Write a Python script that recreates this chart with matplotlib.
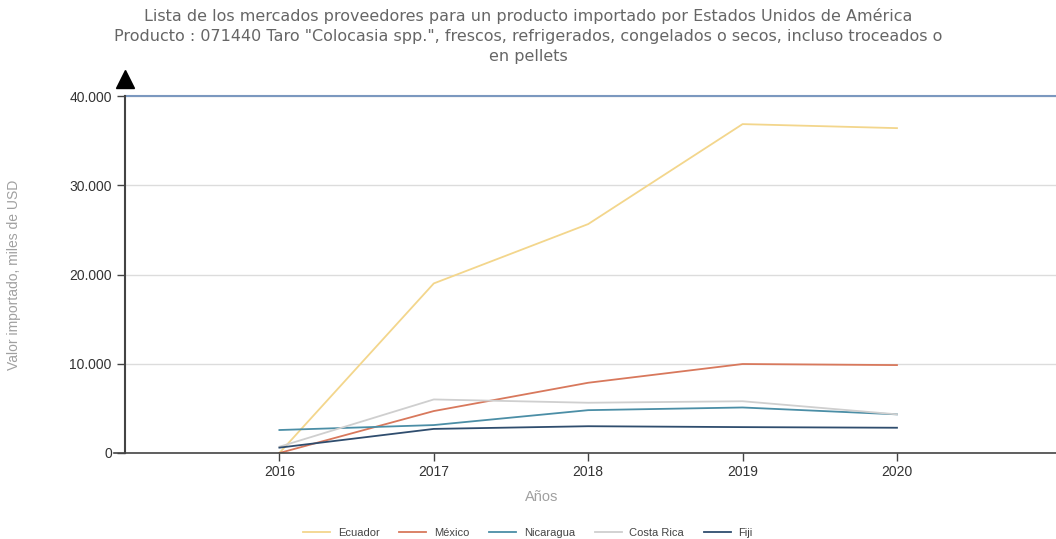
import numpy as np
import matplotlib
matplotlib.use("Agg")
import matplotlib.pyplot as plt
from matplotlib.ticker import FuncFormatter

years = [2016, 2017, 2018, 2019, 2020]
ecuador = [0, 19000, 25650, 36850, 36400]
mexico = [0, 4700, 7870, 9970, 9850]
nicaragua = [2575, 3130, 4800, 5100, 4330]
costa_rica = [700, 6000, 5630, 5800, 4330]
fiji = [600, 2700, 3000, 2900, 2830]

series = [
    ("Ecuador", ecuador, "#f3d68c"),
    ("México", mexico, "#d8785c"),
    ("Nicaragua", nicaragua, "#4b8ea6"),
    ("Costa Rica", costa_rica, "#cfcfcf"),
    ("Fiji", fiji, "#2f4d6e"),
]

plt.rcParams["font.family"] = ["Liberation Sans", "DejaVu Sans"]

fig = plt.figure(figsize=(10.56, 5.39), dpi=100)
ax = fig.add_axes([125 / 1056, 86 / 539, 931 / 1056, 357 / 539])

for name, vals, col in series:
    ax.plot(years, vals, color=col, lw=1.3, label=name)

ax.set_xlim(2015, 2021.03)
ax.set_ylim(0, 40000)
ax.set_xticks(years)
ax.set_yticks([0, 10000, 20000, 30000, 40000])
ax.yaxis.set_major_formatter(FuncFormatter(lambda v, p: f"{int(v):,}".replace(",", ".")))

ax.grid(axis="y", color="#dcdcdc", lw=1)
ax.axhline(40000, color="#7b98bf", lw=1.5, clip_on=False)
for s in ["top", "right"]:
    ax.spines[s].set_visible(False)
ax.spines["left"].set_color("#444444")
ax.spines["left"].set_linewidth(1.5)
ax.spines["bottom"].set_color("#444444")
ax.spines["bottom"].set_linewidth(1.2)
ax.spines["bottom"].set_bounds(2015 - 0.07, 2021.03)
ax.tick_params(axis="both", colors="#444444", labelcolor="#333333", labelsize=10, length=6, width=1)
ax.tick_params(axis="x", pad=3)

# arrow head on the y axis
ax.plot([2015], [41900], marker="^", color="black", markersize=13, clip_on=False)

ax.set_ylabel("Valor importado, miles de USD", color="#a0a0a0", fontsize=10)
ax.yaxis.set_label_coords(-0.112, 0.5)
ax.set_xlabel("Años", color="#a0a0a0", fontsize=10.5)
ax.xaxis.set_label_coords(0.448, -0.105)

fig.suptitle('Lista de los mercados proveedores para un producto importado por Estados Unidos de América\n'
             'Producto : 071440 Taro "Colocasia spp.", frescos, refrigerados, congelados o secos, incluso troceados o\n'
             'en pellets',
             x=0.5, y=0.985, fontsize=11.5, color="#666666", linespacing=1.42, family="DejaVu Sans")

leg = fig.legend(loc="lower center", bbox_to_anchor=(0.5, -0.017), ncol=5, frameon=False,
                 fontsize=8, handlelength=2.4, columnspacing=1.8, handletextpad=0.7)
for t in leg.get_texts():
    t.set_color("#444444")

fig.savefig("out.png", dpi=100)
